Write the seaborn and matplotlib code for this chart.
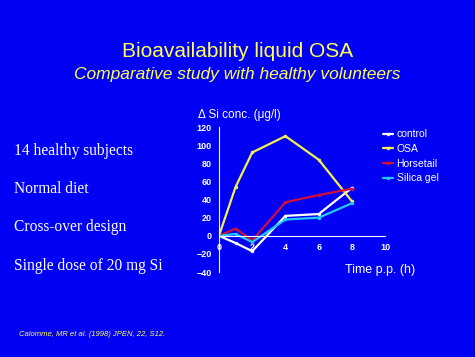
import pandas as pd
import seaborn as sns
import matplotlib.pyplot as plt

#%%
hours = [0, 1, 2, 4, 6, 8]
control = [0, -8, -17, 22, 24, 53]
osa = [0, 54, 92, 110, 84, 38]
horsetail = [0, 8, -5, 37, 45, 52]
silica_gel = [0, 2, -7, 18, 20, 36]
series_names = ["control", "OSA", "Horsetail", "Silica gel"]
y_ticks = [-40, -20, 0, 20, 40, 60, 80, 100, 120]
x_ticks = [0, 2, 4, 6, 8, 10]
bullets = ["14 healthy subjects", "Normal diet", "Cross-over design", "Single dose of 20 mg Si"]

df = pd.DataFrame({
    "time": hours * 4,
    "conc": control + osa + horsetail + silica_gel,
    "group": sum([[n] * len(hours) for n in series_names], []),
})

#%%
bg = "#0000F5"
yellow = "#FFFF55"
sns.set_style("white")
plt.rcParams["font.family"] = ["Liberation Sans", "DejaVu Sans"]
fig = plt.figure(figsize=(4.75, 3.57), dpi=100, facecolor=bg)
ax = fig.add_axes([0.461, 0.238, 0.35, 0.406])
ax.set_facecolor(bg)

palette = {"control": "white", "OSA": "#F2F050", "Horsetail": "#D0103A", "Silica gel": "#22C8F8"}
sns.lineplot(data=df, x="time", y="conc", hue="group", palette=palette, marker="o",
             markersize=2.5, markeredgewidth=0, linewidth=1.6, ax=ax)

ax.set_xlim(0, 10)
ax.set_ylim(-40, 120)
ax.set_xticks(x_ticks)
ax.set_yticks(y_ticks)
for s in ["top", "right"]:
    ax.spines[s].set_visible(False)
ax.spines["bottom"].set_position(("data", 0))
ax.spines["left"].set_position(("data", 0))
for s in ["bottom", "left"]:
    ax.spines[s].set_color("white")
    ax.spines[s].set_linewidth(0.8)
ax.tick_params(colors="white", length=3, width=0.8, labelsize=6.5, pad=2)
for lab in ax.get_xticklabels() + ax.get_yticklabels():
    lab.set_fontweight("bold")
ax.set_xlabel("")
ax.set_ylabel("")

leg = ax.legend(loc="upper left", bbox_to_anchor=(0.93, 1.05), frameon=False, fontsize=7.5,
                handlelength=1.0, handletextpad=0.3, labelspacing=0.45, labelcolor="white")

fig.text(0.5, 0.855, "Bioavailability liquid OSA", color=yellow, fontsize=15, ha="center", va="center")
fig.text(0.5, 0.79, "Comparative study with healthy volunteers", color=yellow, fontsize=12.5,
         ha="center", va="center", style="italic")
fig.text(0.417, 0.678, "Δ Si conc. (μg/l)", color="white", fontsize=8.5, ha="left", va="center")
fig.text(0.726, 0.243, "Time p.p. (h)", color="white", fontsize=9, ha="left", va="center")
for i, t in enumerate(bullets):
    fig.text(0.03, 0.577 - i * 0.107, t, color="white", fontsize=11.2, family="Liberation Serif",
             ha="left", va="center")
fig.text(0.04, 0.062, "Calomme, MR et al. (1998) JPEN, 22, S12.", color=yellow, fontsize=5.5,
         style="italic", ha="left", va="center")

fig.savefig("out.png", dpi=100, facecolor=bg)
